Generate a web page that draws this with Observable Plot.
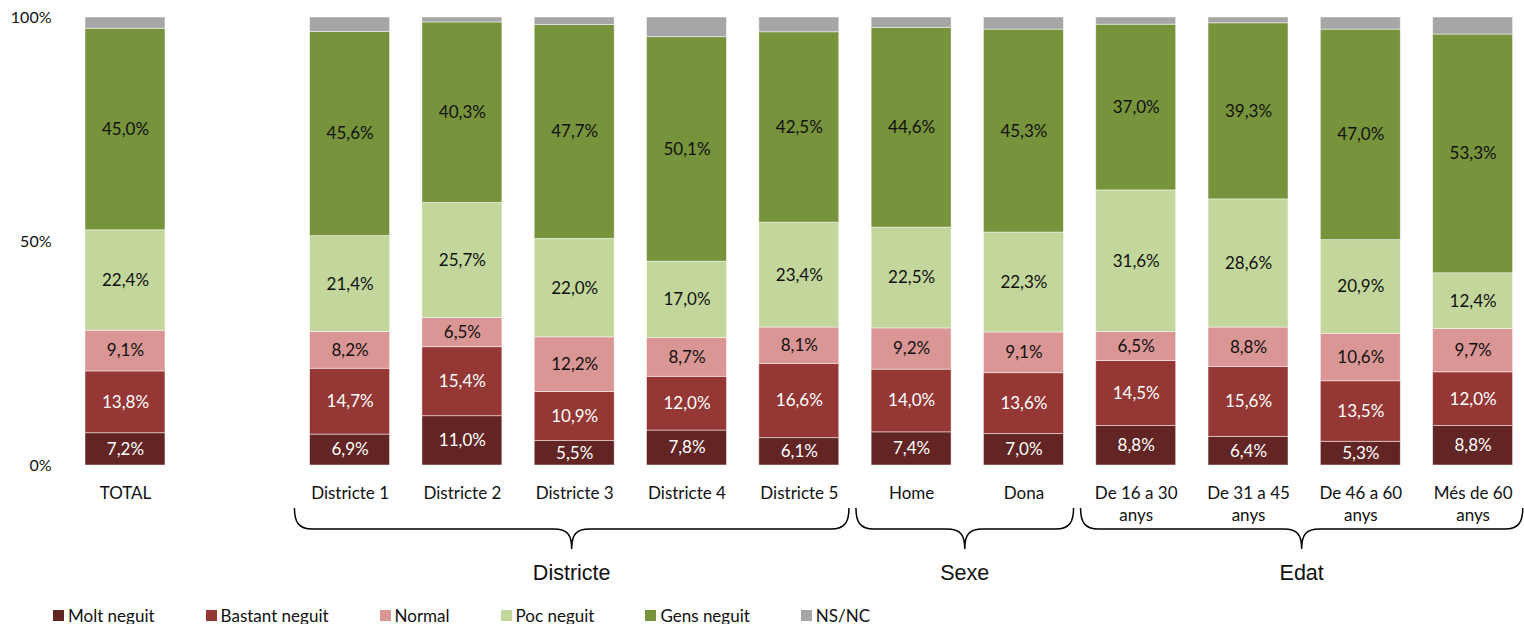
<!DOCTYPE html>
<html><head><meta charset="utf-8">
<script src="https://cdn.jsdelivr.net/npm/d3@7"></script>
<script src="https://cdn.jsdelivr.net/npm/@observablehq/plot@0.6"></script>
<style>
html,body{margin:0;padding:0;background:#fff;overflow:hidden}
#legend{display:flex;align-items:center;gap:51px;padding-left:53px;height:24px;margin-top:3px;font:17px Lato,sans-serif;color:#111}
.item{display:flex;align-items:center}
.sw{width:11px;height:11px;margin-right:4px}
</style></head><body><div id="chart"></div><div id="legend"></div>
<script>
const categories = ["TOTAL","Districte 1","Districte 2","Districte 3","Districte 4","Districte 5","Home","Dona","De 16 a 30 anys","De 31 a 45 anys","De 46 a 60 anys","Més de 60 anys"];
const levels = ["Molt neguit","Bastant neguit","Normal","Poc neguit","Gens neguit","NS/NC"];
const colors = ["#632523","#953735","#D99694","#C3D69B","#77933C","#A6A6A6"];
const moltNeguit    = [7.2, 6.9, 11.0, 5.5, 7.8, 6.1, 7.4, 7.0, 8.8, 6.4, 5.3, 8.8];
const bastantNeguit = [13.8,14.7,15.4,10.9,12.0,16.6,14.0,13.6,14.5,15.6,13.5,12.0];
const normal        = [9.1, 8.2, 6.5, 12.2, 8.7, 8.1, 9.2, 9.1, 6.5, 8.8, 10.6, 9.7];
const pocNeguit     = [22.4,21.4,25.7,22.0,17.0,23.4,22.5,22.3,31.6,28.6,20.9,12.4];
const gensNeguit    = [45.0,45.6,40.3,47.7,50.1,42.5,44.6,45.3,37.0,39.3,47.0,53.3];
const nsnc          = [2.5, 3.2, 1.1, 1.7, 4.4, 3.3, 2.3, 2.7, 1.6, 1.3, 2.7, 3.8];
const yTicks = [0, 50, 100];
const groupNames = ["Districte","Sexe","Edat"];
const groupFirst = ["Districte 1","Home","De 16 a 30 anys"];
const groupLast  = ["Districte 5","Dona","Més de 60 anys"];

const series = [moltNeguit, bastantNeguit, normal, pocNeguit, gensNeguit, nsnc];
const rows = [];
categories.forEach((c, i) => levels.forEach((l, j) => rows.push({cat: c, level: l, value: series[j][i]})));

const GAP = "\u2003";
const domain = [categories[0], GAP, ...categories.slice(1)];
const fmt = v => v.toFixed(1).replace(".", ",") + "%";
const dark = new Set(["Molt neguit","Bastant neguit"]);
const labelled = rows.filter(d => d.level !== "NS/NC");

const chart = Plot.plot({
  width: 1524, height: 600,
  marginLeft: 85, marginRight: 11.4, marginTop: 17, marginBottom: 135,
  style: {fontFamily: "Lato, sans-serif", fontSize: "17px", color: "#111", background: "#fff"},
  x: {domain, paddingInner: 0.288, paddingOuter: 0, round: false, label: null},
  y: {domain: [0, 100], label: null},
  color: {domain: levels, range: colors},
  marks: [
    Plot.barY(rows, Plot.stackY({x: "cat", y: "value", fill: "level", order: levels, stroke: "white", strokeWidth: 0.8, strokeOpacity: 0.6})),
    Plot.text(labelled, Plot.stackY({x: "cat", y: "value", z: "level", order: levels, text: d => dark.has(d.level) ? fmt(d.value) : "", fill: "white", fontSize: 17})),
    Plot.text(labelled, Plot.stackY({x: "cat", y: "value", z: "level", order: levels, text: d => dark.has(d.level) ? "" : fmt(d.value), fill: "#111", fontSize: 17})),
    Plot.axisY({ticks: yTicks, tickFormat: d => d + "%", tickSize: 0, tickPadding: 34, fontSize: 16, label: null}),
    Plot.axisX({tickSize: 0, tickPadding: 18, fontSize: 17, lineHeight: 1.3, label: null,
      tickFormat: d => d === GAP ? "" : d.replace(/ anys$/, "\nanys")})
  ]
});
document.getElementById("chart").appendChild(chart);

const x = chart.scale("x");
const bw = x.bandwidth, step = x.step;
const half = (step - bw) / 2;
const svg = d3.select(chart);
groupNames.forEach((name, g) => {
  const x0 = x.apply(groupFirst[g]) - half + 1;
  const x1 = x.apply(groupLast[g]) + bw + half - 6;
  const xm = (x0 + x1) / 2;
  const yT = 508, yM = 529, yB = 549, r = 18;
  const d = `M${x0},${yT} C${x0},${yM-7} ${x0+4},${yM} ${x0+r},${yM} L${xm-r},${yM} C${xm-4},${yM} ${xm},${yM+6} ${xm},${yB} C${xm},${yM+6} ${xm+4},${yM} ${xm+r},${yM} L${x1-r},${yM} C${x1-4},${yM} ${x1},${yM-7} ${x1},${yT}`;
  svg.append("path").attr("d", d).attr("fill", "none").attr("stroke", "#000").attr("stroke-width", 1.5);
  svg.append("text").attr("x", xm).attr("y", 574).attr("text-anchor", "middle").attr("dominant-baseline", "middle")
    .attr("font-family", "'Liberation Sans', Arial, sans-serif").attr("font-size", 21.5).attr("fill", "#111").text(name);
});

const legend = d3.select("#legend");
levels.forEach((l, i) => {
  const it = legend.append("div").attr("class", "item");
  it.append("div").attr("class", "sw").style("background", colors[i]);
  it.append("span").text(l);
});
</script></body></html>
